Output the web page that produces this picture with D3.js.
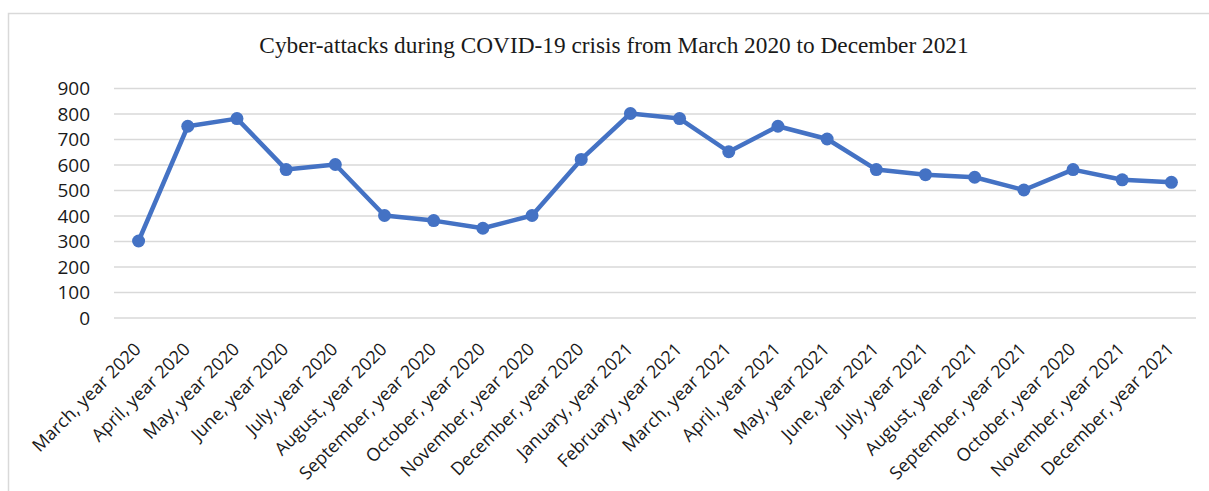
<!DOCTYPE html>
<html>
<head>
<meta charset="utf-8">
<script src="https://cdn.jsdelivr.net/npm/d3@7"></script>
<style>
  html, body { margin: 0; padding: 0; background: #fff; }
  svg { display: block; }
</style>
</head>
<body>
<svg id="chart" width="1209" height="491"></svg>
<script>
const title = "Cyber-attacks during COVID-19 crisis from March 2020 to December 2021";
const categories = [
  "March, year 2020", "April, year 2020", "May, year 2020", "June, year 2020",
  "July, year 2020", "August, year 2020", "September, year 2020", "October, year 2020",
  "November, year 2020", "December, year 2020", "January, year 2021", "February, year 2021",
  "March, year 2021", "April, year 2021", "May, year 2021", "June, year 2021",
  "July, year 2021", "August, year 2021", "September, year 2021", "October, year 2020",
  "November, year 2021", "December, year 2021"
];
const values = [300, 750, 780, 580, 600, 400, 380, 350, 400, 620, 800, 780,
                650, 750, 700, 580, 560, 550, 500, 580, 540, 530];
const yTicks = [0, 100, 200, 300, 400, 500, 600, 700, 800, 900];

const svg = d3.select("#chart");
const W = 1209, H = 491;
const plot = { left: 114, right: 1196, top: 88, bottom: 317.5 };
const lineColor = "#4472C4";
const labelFont = "'Open Sans', sans-serif";

// outer frame
svg.append("rect").attr("x", 8.5).attr("y", 13.5).attr("width", W + 10).attr("height", H + 10)
  .attr("fill", "#fff").attr("stroke", "#d9d9d9").attr("stroke-width", 1.5);

const idx = d3.range(categories.length);
const x = d3.scalePoint().domain(idx).range([plot.left, plot.right]).padding(0.5);
const y = d3.scaleLinear().domain([0, 900]).range([plot.bottom, plot.top]);

// title
svg.append("text").attr("x", 614).attr("y", 53).attr("text-anchor", "middle")
  .attr("font-family", "'Liberation Serif', 'Times New Roman', serif").attr("font-size", 23.3)
  .attr("fill", "#1a1a1a").text(title);

// y axis with gridlines
const yAxis = d3.axisLeft(y).tickValues(yTicks).tickSize(-(plot.right - plot.left)).tickPadding(24)
  .tickFormat(d3.format("d"));
const gy = svg.append("g").attr("transform", `translate(${plot.left},0)`).call(yAxis);
gy.select(".domain").remove();
gy.selectAll(".tick line").attr("stroke", "#d9d9d9").attr("stroke-width", 1.5);
gy.selectAll(".tick text").attr("font-family", labelFont).attr("font-size", 19)
  .attr("fill", "#1a1a1a").attr("dy", "0.36em");

// x axis labels
const xAxis = d3.axisBottom(x).tickSize(0).tickPadding(0).tickFormat(i => categories[i]);
const gx = svg.append("g").attr("transform", `translate(0,${plot.bottom})`).call(xAxis);
gx.select(".domain").remove();
gx.selectAll(".tick text")
  .attr("font-family", labelFont).attr("font-size", 18).attr("fill", "#1a1a1a")
  .attr("text-anchor", "end")
  .attr("y", 0).attr("dy", 0)
  .attr("transform", "translate(3,33) rotate(-45)");

// line
const line = d3.line().x((d, i) => x(i)).y(d => y(d));
svg.append("path").datum(values).attr("d", line).attr("fill", "none")
  .attr("stroke", lineColor).attr("stroke-width", 4.5).attr("stroke-linejoin", "round");

svg.append("g").selectAll("circle").data(values).join("circle")
  .attr("cx", (d, i) => x(i)).attr("cy", d => y(d)).attr("r", 6.5)
  .attr("fill", lineColor);
</script>
</body>
</html>
